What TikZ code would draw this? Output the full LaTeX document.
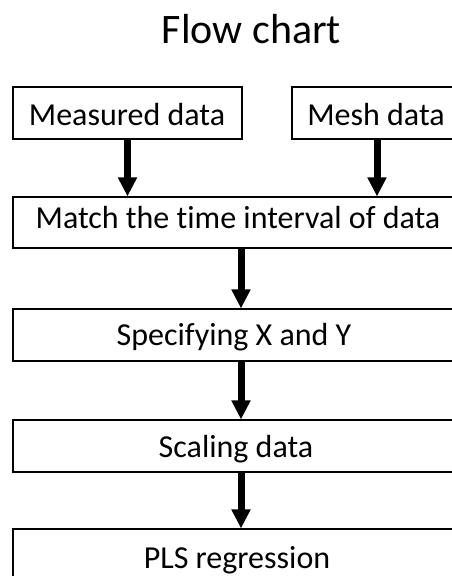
\documentclass[tikz,border=0pt]{standalone}
\usepackage{fontspec}
\setmainfont{Carlito}[Ligatures=NoCommon]
\usetikzlibrary{arrows.meta}
\begin{document}
\begin{tikzpicture}[x=1pt,y=-1pt,
  stepbox/.style={draw=black, line width=1.1pt, rectangle, inner sep=0pt, fill=none},
  steptext/.style={anchor=base, inner sep=0pt, font=\fontsize{32}{32}\selectfont},
  flowarrow/.style={line width=7pt, -{Triangle[width=18pt,length=19pt]}}]
  \useasboundingbox (0,0) rectangle (451,576);

  % title
  \node[anchor=base, inner sep=0pt, font=\fontsize{42}{42}\selectfont] (title) at (251.5,43) {Flow chart};

  % boxes
  \node[stepbox, minimum width=229pt, minimum height=52pt] (meas)  at (127.5,113) {};
  \node[stepbox, minimum width=168pt, minimum height=52pt] (mesh)  at (376,113) {};
  \node[stepbox, minimum width=448pt, minimum height=51pt] (match) at (237,222.5) {};
  \node[stepbox, minimum width=448pt, minimum height=52pt] (spec)  at (237,335) {};
  \node[stepbox, minimum width=448pt, minimum height=52pt] (scale) at (237,446) {};
  \node[stepbox, minimum width=448pt, minimum height=52pt] (pls)   at (237,555) {};

  % box labels
  \node[steptext] (tmeas)  at (127,125) {Measured data};
  \node[steptext] (tmesh)  at (376,125) {Mesh data};
  \node[steptext] (tmatch) at (238,228) {Match the time interval of data};
  \node[steptext] (tspec)  at (234,345) {Specifying X and Y};
  \node[steptext] (tscale) at (236,457) {Scaling data};
  \node[steptext] (tpls)   at (237,568) {PLS regression};

  % connectors
  \draw[flowarrow] (meas.south) -- (meas.south |- match.north);
  \draw[flowarrow] ([xshift=1pt]mesh.south) -- ([xshift=1pt]mesh.south |- match.north);
  \draw[flowarrow] ([xshift=4pt]match.south) -- ([xshift=4pt]spec.north);
  \draw[flowarrow] ([xshift=4pt]spec.south) -- ([xshift=4pt]scale.north);
  \draw[flowarrow] ([xshift=4pt]scale.south) -- ([xshift=4pt]pls.north);
\end{tikzpicture}
\end{document}
